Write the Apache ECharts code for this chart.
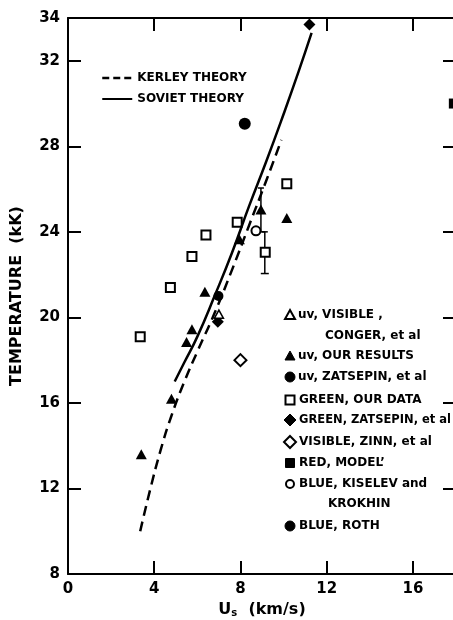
<!DOCTYPE html>
<html>
<head>
    <meta charset="utf-8">
    <title>Temperature vs Us</title>
    <script src="https://cdn.jsdelivr.net/npm/echarts@6.0.0/dist/echarts.min.js"></script>
    <style>
        html, body { margin: 0; padding: 0; background: #fff; }
        #main { width: 453px; height: 620px; }
    </style>
</head>
<body>
    <div id="main"></div>
    <script type="text/javascript">
        // theory curves
        var kerleyX = [3.35, 3.8, 4.3, 4.8, 5.4, 6.0, 6.8, 7.6, 8.4, 9.2, 9.9];
        var kerleyT = [10.0, 11.9, 13.8, 15.4, 17.0, 18.4, 20.2, 22.2, 24.3, 26.4, 28.3];
        var sovietX = [4.95, 5.4, 6.0, 6.8, 7.6, 8.4, 9.2, 10.0, 10.7, 11.3];
        var sovietT = [17.0, 17.9, 19.1, 21.0, 23.0, 25.2, 27.3, 29.5, 31.5, 33.3];

        // measured points
        var uvConger = [[7.0, 20.15]];
        var uvOurX = [3.4, 4.8, 5.5, 5.75, 6.35, 7.95, 8.95, 10.15];
        var uvOurT = [13.6, 16.2, 18.85, 19.45, 21.2, 23.65, 25.05, 24.65];
        var uvZatsepin = [[6.98, 21.0]];
        var greenOurX = [3.35, 4.75, 5.75, 6.4, 7.85, 10.15, 9.15];
        var greenOurT = [19.1, 21.4, 22.85, 23.85, 24.45, 26.25, 23.05];
        var greenZatsepin = [[6.95, 19.8], [11.2, 33.7]];
        var visibleZinn = [[8.0, 18.0]];
        var redModel = [[17.9, 30.0]];
        var blueKiselev = [[8.72, 24.05]];
        var blueRoth = [[8.2, 29.05]];

        // error bars
        var errX = [8.95, 9.13];
        var errLow = [24.0, 22.05];
        var errHigh = [26.05, 24.0];

        var xTicks = [0, 4, 8, 12, 16];
        var yTicks = [8, 12, 16, 20, 24, 28, 32, 34];

        var markerNames = [
            'uv, VISIBLE ,', 'CONGER, et al', 'uv, OUR RESULTS', 'uv, ZATSEPIN, et al',
            'GREEN, OUR DATA', 'GREEN, ZATSEPIN, et al', 'VISIBLE, ZINN, et al',
            'RED, MODEL\u2019', 'BLUE, KISELEV and', 'KROKHIN', 'BLUE, ROTH'
        ];

        function zip(a, b) {
            return a.map(function (v, i) { return [v, b[i]]; });
        }

        var FONT = 'DejaVu Sans';
        var myChart = echarts.init(document.getElementById('main'));

        // hand drawn key for the markers (some entries take two lines)
        function keyIcon(kind, cx, cy) {
            var filled = { fill: '#000', stroke: '#000', lineWidth: 1 };
            var open = { fill: '#fff', stroke: '#000', lineWidth: 2 };
            if (kind === 'tri' || kind === 'openTri') {
                return { type: 'polygon', shape: { points: [[cx, cy - 5], [cx + 5, cy + 4], [cx - 5, cy + 4]] },
                    style: kind === 'tri' ? filled : open };
            }
            if (kind === 'dot' || kind === 'openDot') {
                return { type: 'circle', shape: { cx: cx, cy: cy, r: kind === 'dot' ? 5 : 4 },
                    style: kind === 'dot' ? filled : open };
            }
            if (kind === 'sq' || kind === 'openSq') {
                return { type: 'rect', shape: { x: cx - 4.5, y: cy - 4.5, width: 9, height: 9 },
                    style: kind === 'sq' ? filled : open };
            }
            return { type: 'polygon', shape: { points: [[cx, cy - 6], [cx + 6, cy], [cx, cy + 6], [cx - 6, cy]] },
                style: kind === 'diamond' ? filled : open };
        }

        var keyRows = [
            ['openTri', 315, 298, 12], [null, 336, 325, 12], ['tri', 356, 298, 12], ['dot', 377, 298, 12],
            ['openSq', 400, 299, 12], ['diamond', 420, 299, 11.5], ['openDiamond', 442, 299, 12],
            ['sq', 463, 299, 12], ['openDot', 484, 299, 12], [null, 504, 328, 12], ['dot', 526, 299, 12]
        ];
        var keyGraphics = [];
        keyRows.forEach(function (r, i) {
            if (r[0]) keyGraphics.push(keyIcon(r[0], 290, r[1]));
            keyGraphics.push({
                type: 'text', x: r[2], y: r[1],
                style: { text: markerNames[i], fill: '#000', font: 'bold ' + r[3] + 'px "' + FONT + '"', verticalAlign: 'middle' }
            });
        });

        var axisLine = { show: true, onZero: false, lineStyle: { color: '#000', width: 2 } };
        var tick = { show: true, inside: true, length: 13, lineStyle: { color: '#000', width: 2 } };

        var option = {
            animation: false,
            backgroundColor: '#fff',
            grid: { left: 68, top: 18, right: -3, bottom: 46, containLabel: false, outerBoundsMode: 'none' },
            legend: {
                left: 96, top: 67, orient: 'vertical', itemWidth: 30, itemHeight: 10, itemGap: 9,
                selectedMode: false,
                itemStyle: { color: 'rgba(0,0,0,0)', borderColor: 'rgba(0,0,0,0)', borderWidth: 0 },
                textStyle: { color: '#000', fontFamily: FONT, fontWeight: 'bold', fontSize: 12 },
                data: [
                    { name: 'KERLEY THEORY', lineStyle: { type: [7, 4], width: 2.5 } },
                    { name: 'SOVIET THEORY' }
                ]
            },
            graphic: keyGraphics,
            xAxis: [{
                type: 'value', min: 0, max: 18, interval: 4, position: 'bottom',
                axisLine: axisLine, axisTick: tick, splitLine: { show: false },
                axisLabel: {
                    color: '#000', fontFamily: FONT, fontWeight: 'bold', fontSize: 15, margin: 8,
                    showMaxLabel: false,
                    formatter: function (v) { return xTicks.indexOf(v) >= 0 ? String(v) : ''; }
                },
                name: '{a|U}{s|s}{a|  (km/s)}', nameLocation: 'middle', nameGap: 26,
                nameTextStyle: {
                    rich: {
                        a: { color: '#000', fontFamily: FONT, fontWeight: 'bold', fontSize: 16 },
                        s: { color: '#000', fontFamily: FONT, fontWeight: 'bold', fontSize: 10, padding: [7, 0, 0, 0] }
                    }
                }
            }, {
                type: 'value', min: 0, max: 18, interval: 4, position: 'top',
                axisLine: axisLine, axisTick: tick, axisLabel: { show: false }, splitLine: { show: false }
            }],
            yAxis: [{
                type: 'value', min: 8, max: 34, interval: 4, position: 'left',
                axisLine: axisLine, axisTick: tick, splitLine: { show: false },
                axisLabel: {
                    color: '#000', fontFamily: FONT, fontWeight: 'bold', fontSize: 15, margin: 8,
                    formatter: function (v) { return yTicks.indexOf(v) >= 0 ? String(v) : ''; }
                },
                name: 'TEMPERATURE  (kK)', nameLocation: 'middle', nameGap: 43, nameRotate: 90,
                nameTextStyle: { color: '#000', fontFamily: FONT, fontWeight: 'bold', fontSize: 16 }
            }, {
                type: 'value', min: 8, max: 34, interval: 4, position: 'right',
                axisLine: axisLine, axisTick: tick, axisLabel: { show: false }, splitLine: { show: false }
            }],
            series: [{
                name: 'KERLEY THEORY', type: 'line', smooth: true, symbol: 'none',
                data: zip(kerleyX, kerleyT),
                lineStyle: { color: '#000', width: 2.5, type: [10, 6] },
                itemStyle: { color: '#000' }
            }, {
                name: 'SOVIET THEORY', type: 'line', smooth: true, symbol: 'none',
                data: zip(sovietX, sovietT),
                lineStyle: { color: '#000', width: 2.5 },
                itemStyle: { color: '#000' }
            }, {
                name: 'error', type: 'custom',
                data: errX.map(function (x, i) { return [x, errLow[i], errHigh[i]]; }),
                renderItem: function (params, api) {
                    var lo = api.coord([api.value(0), api.value(1)]);
                    var hi = api.coord([api.value(0), api.value(2)]);
                    var st = { stroke: '#000', lineWidth: 1.5 };
                    return {
                        type: 'group', children: [
                            { type: 'line', shape: { x1: lo[0], y1: lo[1], x2: hi[0], y2: hi[1] }, style: st },
                            { type: 'line', shape: { x1: lo[0] - 4, y1: lo[1], x2: lo[0] + 4, y2: lo[1] }, style: st },
                            { type: 'line', shape: { x1: hi[0] - 3, y1: hi[1], x2: hi[0] + 3, y2: hi[1] }, style: st }
                        ]
                    };
                }
            }, {
                name: 'GREEN, OUR DATA', type: 'scatter', symbol: 'rect', symbolSize: 9,
                data: zip(greenOurX, greenOurT),
                itemStyle: { color: '#fff', borderColor: '#000', borderWidth: 2, opacity: 1 }
            }, {
                name: 'GREEN, ZATSEPIN, et al', type: 'scatter', symbol: 'diamond', symbolSize: 12,
                data: greenZatsepin, itemStyle: { color: '#000', opacity: 1 }
            }, {
                name: 'uv, VISIBLE , CONGER, et al', type: 'scatter', symbol: 'triangle', symbolSize: [9, 8],
                data: uvConger, itemStyle: { color: '#fff', borderColor: '#000', borderWidth: 1.5, opacity: 1 }
            }, {
                name: 'uv, OUR RESULTS', type: 'scatter', symbol: 'triangle', symbolSize: [11, 10],
                data: zip(uvOurX, uvOurT), itemStyle: { color: '#000', opacity: 1 }
            }, {
                name: 'uv, ZATSEPIN, et al', type: 'scatter', symbol: 'circle', symbolSize: 10,
                data: uvZatsepin, itemStyle: { color: '#000', opacity: 1 }
            }, {
                name: 'VISIBLE, ZINN, et al', type: 'scatter', symbol: 'diamond', symbolSize: 12,
                data: visibleZinn, itemStyle: { color: '#fff', borderColor: '#000', borderWidth: 2, opacity: 1 }
            }, {
                name: 'RED, MODEL', type: 'scatter', symbol: 'rect', symbolSize: 10,
                data: redModel, itemStyle: { color: '#000', opacity: 1 }
            }, {
                name: 'BLUE, KISELEV and KROKHIN', type: 'scatter', symbol: 'circle', symbolSize: 9,
                data: blueKiselev, itemStyle: { color: '#fff', borderColor: '#000', borderWidth: 2, opacity: 1 }
            }, {
                name: 'BLUE, ROTH', type: 'scatter', symbol: 'circle', symbolSize: 12,
                data: blueRoth, itemStyle: { color: '#000', opacity: 1 }
            }]
        };

        myChart.setOption(option);
    </script>
</body>
</html>
